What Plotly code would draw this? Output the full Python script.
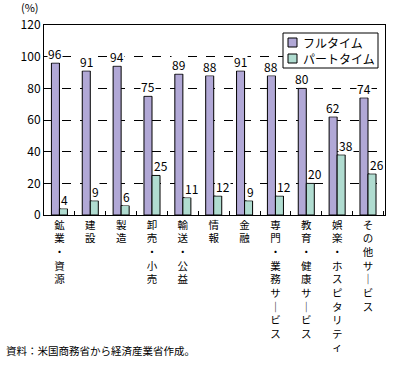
import plotly.graph_objects as go

categories = ["鉱業・資源", "建設", "製造", "卸売・小売", "輸送・公益", "情報", "金融",
              "専門・業務サービス", "教育・健康サービス", "娯楽・ホスピタリティ", "その他サービス"]
full_time = [96, 91, 94, 75, 89, 88, 91, 88, 80, 62, 74]
part_time = [4, 9, 6, 25, 11, 12, 9, 12, 20, 38, 26]
y_ticks = [0, 20, 40, 60, 80, 100, 120]
series_names = ["フルタイム", "パートタイム"]
series_colors = ["#b1a8d6", "#b0dcd0"]

FONT = "Noto Sans CJK JP"

def vertical(s):
    return "<br>".join("｜" if ch == "ー" else ch for ch in s)

fig = go.Figure()
for name, vals, col in zip(series_names, [full_time, part_time], series_colors):
    fig.add_trace(go.Bar(
        x=categories, y=vals, name=name,
        marker=dict(color=col, line=dict(color="black", width=1)),
    ))

# custom legend (layout decoration)
L, R, T, B = 44, 385, 25, 215
def px(x):
    return (x - L) / (R - L)
def py(y):
    return (B - y) / (B - T)

annotations = []
# value labels with white background (mask grid lines like the reference)
for vals, anchor, shift in zip([full_time, part_time], ["center", "left"], [-4, 1]):
    for c, v in zip(categories, vals):
        annotations.append(dict(
            x=c, y=v, xref="x", yref="y", text=str(v), showarrow=False,
            xanchor=anchor, yanchor="bottom", xshift=shift, yshift=0,
            bgcolor="white", borderpad=0,
            font=dict(size=12, family=FONT, color="black")))

shapes = [dict(type="rect", xref="paper", yref="paper",
               x0=px(283), x1=px(378), y0=py(68), y1=py(33),
               line=dict(color="black", width=1), fillcolor="white", layer="above")]
for i, (name, col) in enumerate(zip(series_names, series_colors)):
    top = 38 + i * 16
    shapes.append(dict(type="rect", xref="paper", yref="paper",
                       x0=px(288), x1=px(297), y0=py(top + 9), y1=py(top),
                       line=dict(color="black", width=1), fillcolor=col, layer="above"))
    annotations.append(dict(text=name, xref="paper", yref="paper",
                            x=px(301), y=py(top + 4.5), xanchor="left", yanchor="middle",
                            showarrow=False, font=dict(size=12, family=FONT)))

annotations += [
    dict(text="(%)", xref="paper", yref="paper", x=px(19), y=1.0,
         xanchor="left", yanchor="bottom", showarrow=False,
         font=dict(size=11, family=FONT), yshift=8),
    dict(text="資料：米国商務省から経済産業省作成。", xref="paper", yref="paper",
         x=px(4), y=py(350), xanchor="left", yanchor="middle", showarrow=False,
         font=dict(size=10.5, family=FONT)),
]

fig.update_layout(
    width=393, height=365,
    margin=dict(l=L, r=393 - R, t=T, b=365 - B),
    barmode="group", bargap=0.48, bargroupgap=0,
    plot_bgcolor="white", paper_bgcolor="white",
    font=dict(family=FONT, size=11, color="black"),
    showlegend=False,
    xaxis=dict(
        tickmode="array", tickvals=categories,
        ticktext=[vertical(c) for c in categories],
        tickfont=dict(size=10.5, family=FONT),
        showline=True, linecolor="black", linewidth=1, mirror=True,
        ticks="inside", ticklen=4, tickcolor="black", tickson="boundaries",
        showgrid=False, automargin=False,
    ),
    yaxis=dict(
        range=[0, 120], tickvals=y_ticks,
        tickfont=dict(size=12, family=FONT),
        showline=True, linecolor="black", linewidth=1, mirror=True,
        showgrid=True, gridcolor="black", griddash="dash", gridwidth=1,
        zeroline=False, ticks="", automargin=False,
    ),
    shapes=shapes,
    annotations=annotations,
)

fig.write_html("out.html", config={"displayModeBar": False},
               post_script="document.body.style.margin='0';")
